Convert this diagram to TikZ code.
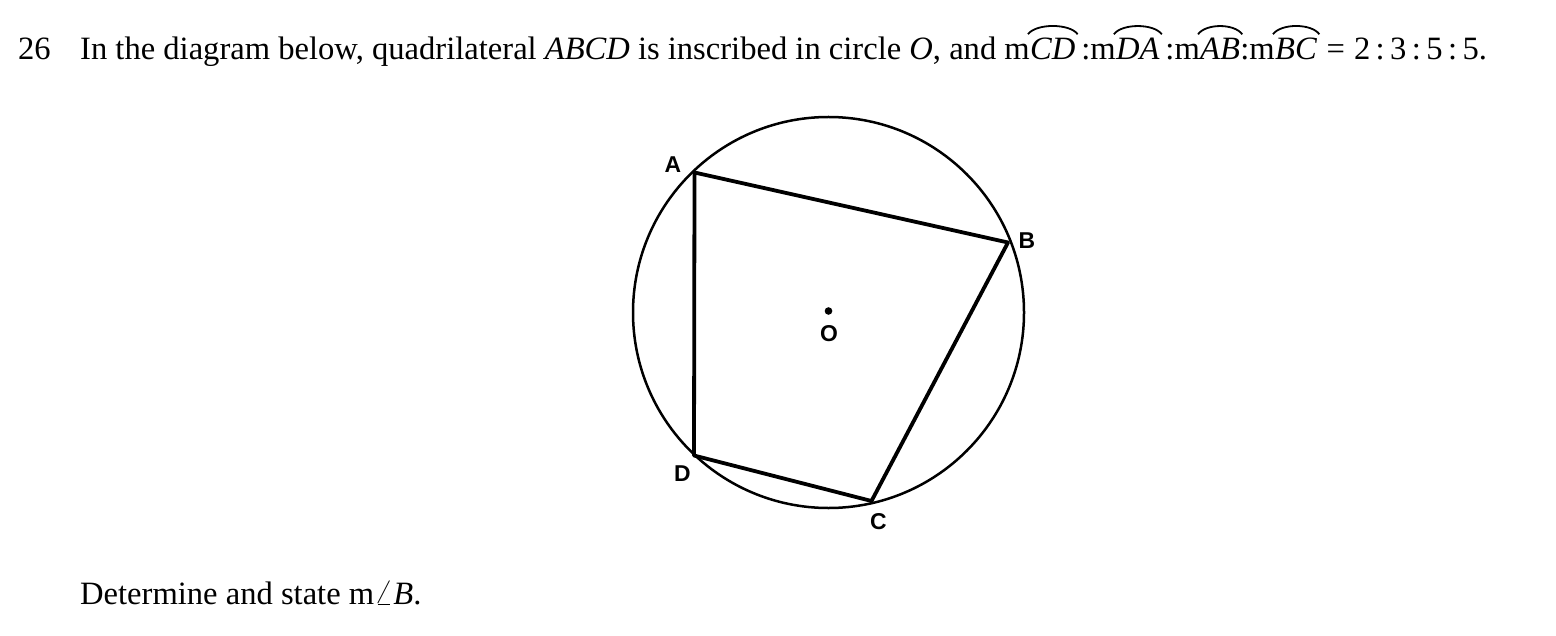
\documentclass[tikz,border=0pt]{standalone}
\usepackage{fontspec}
\setmainfont{Liberation Serif}
\setsansfont{Liberation Sans}
\begin{document}
\begin{tikzpicture}[x=1bp,y=-1bp,
  txt/.style={inner sep=0pt,anchor=base west,font=\fontsize{32.7}{39}\selectfont},
  lbl/.style={inner sep=0pt,font=\sffamily\bfseries\fontsize{23}{27}\selectfont},
  quad/.style={line width=3.8bp,line join=round},
  circ/.style={line width=2.5bp},
  hat/.style={line width=1.8bp}]
\path[use as bounding box,fill=white] (0,0) rectangle (1556,636);
% question text
\node[txt] (num) at (18,60) {26};
\node[txt] (t1) at (80,60) {In the diagram below, quadrilateral \textit{ABCD} is inscribed in circle \textit{O}, and m};
\node[txt] (cd) at (t1.base east) {\textit{CD}};
\node[txt] (t2) at (cd.base east) {\,:m};
\node[txt] (da) at (t2.base east) {\textit{DA}};
\node[txt] (t3) at (da.base east) {\,:m};
\node[txt] (ab) at (t3.base east) {\textit{AB}};
\node[txt] (t4) at (ab.base east) {:m};
\node[txt] (bc) at (t4.base east) {\textit{BC}};
\node[txt] (t5) at (bc.base east) {\;=\;2\,:\,3\,:\,5\,:\,5.};
\foreach \n in {cd,da,ab,bc}{
  \draw[hat] ([xshift=-2bp,yshift=4bp]\n.north west) .. controls ([xshift=6bp,yshift=15bp]\n.north west) and ([xshift=-6bp,yshift=15bp]\n.north east) .. ([xshift=2bp,yshift=4bp]\n.north east);
}
\node[txt] (q) at (80,604) {Determine and state m$\angle$\textit{B}.};
% figure
\coordinate (O) at (828.5,312.5);
\coordinate (A) at (694.5,172.5);
\coordinate (B) at (1008,242.5);
\coordinate (C) at (871.5,501);
\coordinate (D) at (694,455.5);
\draw[circ] (O) circle[radius=195.5bp];
\draw[quad] (A) -- (B) -- (C) -- (D) -- cycle;
\fill (O) ++(0,-1.5) circle[radius=3.8bp];
\node[lbl] (lA) at (673,165) {A};
\node[lbl] (lB) at (1027,241) {B};
\node[lbl] (lC) at (878.5,522) {C};
\node[lbl] (lD) at (682.5,474) {D};
\node[lbl] (lO) at (829,334) {O};
\end{tikzpicture}
\end{document}
